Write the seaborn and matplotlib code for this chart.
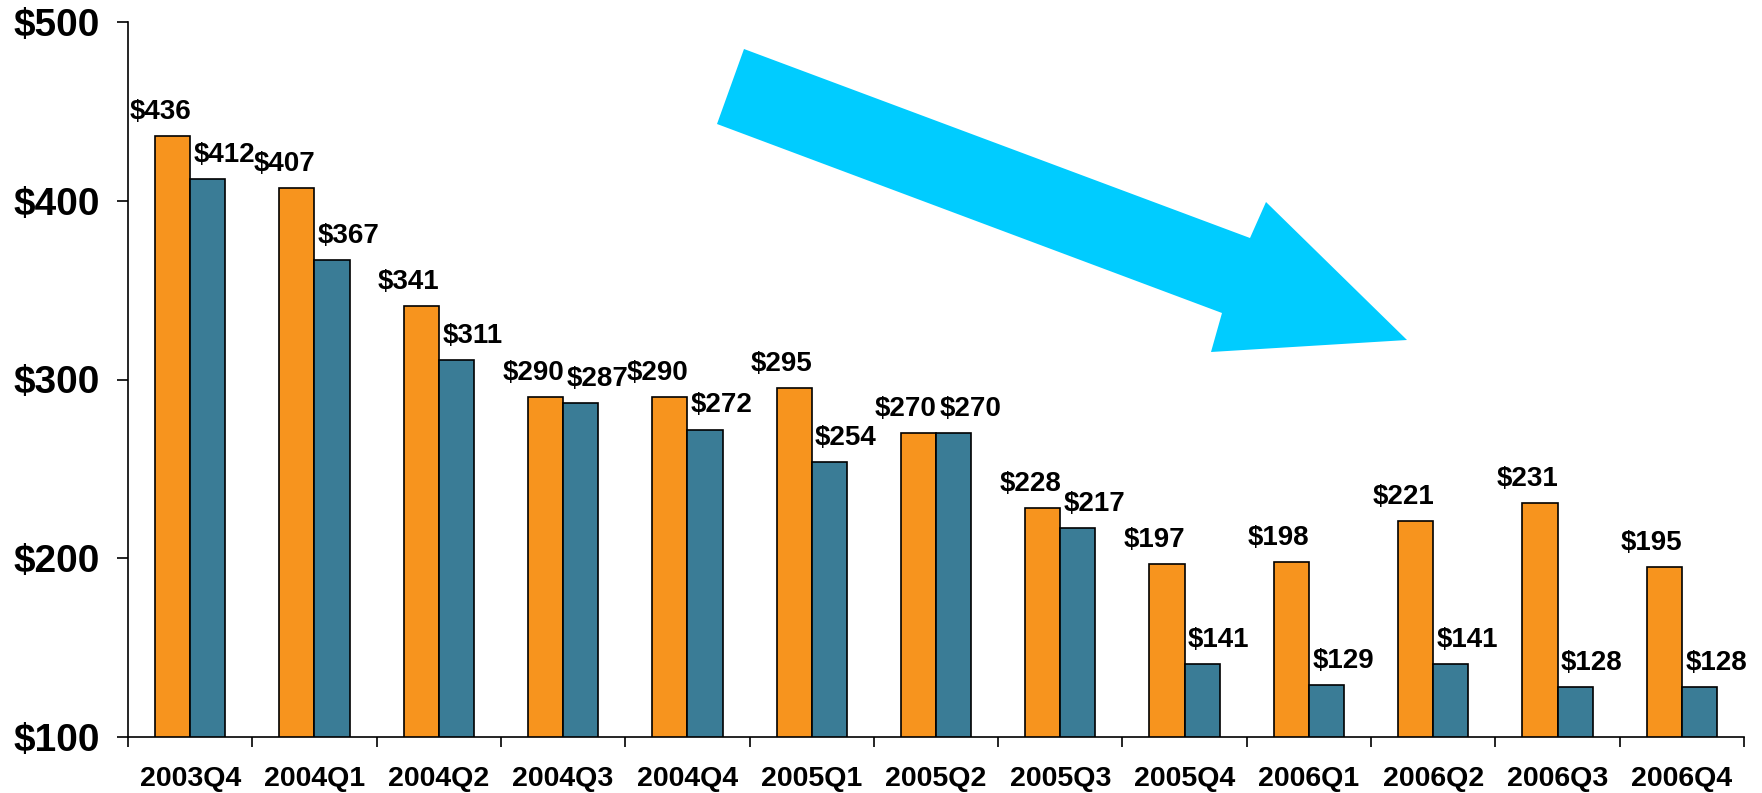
import numpy as np
import pandas as pd
import matplotlib
matplotlib.use("Agg")
from matplotlib import pyplot as plt
from matplotlib.patches import Polygon
from matplotlib.ticker import FixedLocator
import seaborn as sns

# quarterly values
quarters = ['2003Q4', '2004Q1', '2004Q2', '2004Q3', '2004Q4', '2005Q1', '2005Q2',
            '2005Q3', '2005Q4', '2006Q1', '2006Q2', '2006Q3', '2006Q4']
orange_vals = [436, 407, 341, 290, 290, 295, 270, 228, 197, 198, 221, 231, 195]
teal_vals = [412, 367, 311, 287, 272, 254, 270, 217, 141, 129, 141, 128, 128]
y_ticks = [100, 200, 300, 400, 500]

series_names = ['Series 1', 'Series 2']
colors = ['#F7941E', '#3A7C96']

df = pd.DataFrame({
    'Quarter': quarters * 2,
    'Series': [series_names[0]] * len(quarters) + [series_names[1]] * len(quarters),
    'Value': orange_vals + teal_vals,
})

sns.set_theme(style='white')
plt.rcParams['font.family'] = ['Liberation Sans', 'DejaVu Sans']
plt.rcParams['font.weight'] = 'bold'
plt.rcParams['text.color'] = 'black'
plt.rcParams['xtick.color'] = 'black'
plt.rcParams['ytick.color'] = 'black'

W, H = 1762, 793
fig = plt.figure(figsize=(W / 100, H / 100), dpi=100)
ax = fig.add_axes([128 / W, 1 - 737 / H, (1744 - 128) / W, (737 - 22) / H])

sns.barplot(data=df, x='Quarter', y='Value', hue='Series', palette=colors,
            width=0.565, edgecolor='black', linewidth=1.2, saturation=1,
            legend=False, ax=ax)

ax.set_ylim(100, 500)
ax.set_xlim(-0.5, len(quarters) - 0.5)
ax.set_xlabel('')
ax.set_ylabel('')

# y axis
ax.set_yticks(y_ticks)
ax.set_yticklabels([f'${v}' for v in y_ticks], fontsize=28, fontweight='bold', color='black')
ax.tick_params(axis='y', direction='out', length=8, width=1.2, color='black', pad=12, left=True)

# x axis: tick marks on category boundaries, labels on centres
ax.xaxis.set_major_locator(FixedLocator(np.arange(-0.5, len(quarters), 1.0)))
ax.xaxis.set_minor_locator(FixedLocator(np.arange(len(quarters))))
ax.set_xticklabels([])
ax.set_xticklabels(quarters, minor=True, fontsize=20.5, fontweight='bold', color='black')
ax.tick_params(axis='x', which='major', direction='out', length=7, width=1.2, color='black', bottom=True)
ax.tick_params(axis='x', which='minor', length=0, pad=21)

for side in ['top', 'right']:
    ax.spines[side].set_visible(False)
for side in ['left', 'bottom']:
    ax.spines[side].set_color('black')
    ax.spines[side].set_linewidth(1.2)

# value labels: orange ones a bit left, teal ones a bit right
for bar in ax.containers[0]:
    h = bar.get_height()
    ax.annotate(f'${h:.0f}', (bar.get_x() + bar.get_width() / 2, h),
                xytext=(-9, 8), textcoords='offset points', ha='center', va='bottom',
                fontsize=20, fontweight='bold', color='black')
for bar in ax.containers[1]:
    h = bar.get_height()
    ax.annotate(f'${h:.0f}', (bar.get_x() + bar.get_width() / 2, h),
                xytext=(12, 8), textcoords='offset points', ha='center', va='bottom',
                fontsize=20, fontweight='bold', color='black')

# big downward arrow (pixel outline of the shape)
arrow_px = [(744, 49), (1250, 238), (1266, 202), (1407, 340),
            (1211, 352), (1222, 313), (717, 124)]
arrow_fig = [(x / W, 1 - y / H) for x, y in arrow_px]
fig.add_artist(Polygon(arrow_fig, closed=True, facecolor='#00CCFF', edgecolor='none',
                       transform=fig.transFigure))

fig.savefig('out.png', dpi=100)
